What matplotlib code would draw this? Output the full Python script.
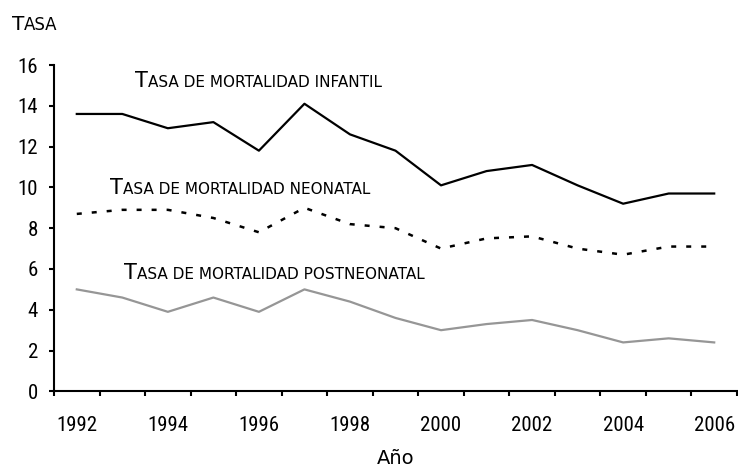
import matplotlib
matplotlib.use('Agg')
import matplotlib.pyplot as plt
from matplotlib import font_manager as fm
from matplotlib.offsetbox import TextArea, HPacker, AnnotationBbox
from matplotlib.ticker import FixedLocator

years = [1992, 1993, 1994, 1995, 1996, 1997, 1998, 1999, 2000, 2001, 2002, 2003, 2004, 2005, 2006]
infantil = [13.6, 13.6, 12.9, 13.2, 11.8, 14.1, 12.6, 11.8, 10.1, 10.8, 11.1, 10.1, 9.2, 9.7, 9.7]
neonatal = [8.7, 8.9, 8.9, 8.5, 7.8, 9.0, 8.2, 8.0, 7.0, 7.5, 7.6, 7.0, 6.7, 7.1, 7.1]
postneonatal = [5.0, 4.6, 3.9, 4.6, 3.9, 5.0, 4.4, 3.6, 3.0, 3.3, 3.5, 3.0, 2.4, 2.6, 2.4]

cap_font = 'DejaVu Sans'

# look for a narrow font for the numbers
fonts = [(f.name, str(f.stretch)) for f in fm.fontManager.ttflist]
num_props = dict(family='Liberation Sans', size=14)
for name, stretch in fonts:
    if name in ('Liberation Sans Narrow', 'Roboto Condensed', 'Open Sans Condensed'):
        num_props = dict(family=name, size=15)
        break
else:
    for name, stretch in fonts:
        if name == 'DejaVu Sans' and 'condensed' in stretch:
            num_props = dict(family='DejaVu Sans', stretch='condensed', size=14.5)
            break


def small_caps(text, big, small):
    # first letter big, the rest uppercase and smaller
    parts = [TextArea(text[0].upper(), textprops=dict(size=big, family=cap_font)),
             TextArea(text[1:].upper(), textprops=dict(size=small, family=cap_font))]
    return HPacker(children=parts, align='baseline', pad=0, sep=0)


fig = plt.figure(figsize=(7.38, 4.69), dpi=100)
ax = fig.add_axes([0.0732, 0.1655, 0.9254, 0.6959])

x = list(range(len(years)))
ax.plot(x, infantil, color='black', lw=1.6)
ax.plot(x, neonatal, color='black', lw=1.8, linestyle=(0, (2, 4)))
ax.plot(x, postneonatal, color='#969696', lw=1.6)

ax.set_xlim(-0.5, len(years) - 0.5)
ax.set_ylim(0, 16)

ax.spines['top'].set_visible(False)
ax.spines['right'].set_visible(False)
ax.spines['left'].set_linewidth(1.5)
ax.spines['bottom'].set_linewidth(1.5)

ax.set_xticks(x[::2])
ax.set_xticklabels([str(y) for y in years[::2]], **num_props)
ax.xaxis.set_minor_locator(FixedLocator([i - 0.5 for i in range(len(years) + 1)]))
ax.tick_params(axis='x', which='major', length=0, pad=18)
ax.tick_params(axis='x', which='minor', length=3.6, width=1.5, direction='out')

ax.set_yticks(range(0, 17, 2))
ax.set_yticklabels([str(v) for v in range(0, 17, 2)], **num_props)
ax.tick_params(axis='y', length=3.6, width=1.5, direction='out', pad=8)

ax.set_xlabel('Año', family=cap_font, size=14, labelpad=10)

labels = [('Tasa de mortalidad infantil', 1.28, 14.95),
          ('Tasa de mortalidad neonatal', 0.73, 9.71),
          ('Tasa de mortalidad postneonatal', 1.04, 5.54)]
for txt, lx, ly in labels:
    ab = AnnotationBbox(small_caps(txt, 15, 11), (lx, ly), xycoords='data',
                        box_alignment=(0, 0), frameon=False, pad=0,
                        xybox=(0, -5), boxcoords='offset pixels')
    ax.add_artist(ab)

ab = AnnotationBbox(small_caps('Tasa', 14.5, 12), (12 / 738, 1 - 28.5 / 469),
                    xycoords='figure fraction', box_alignment=(0, 0), frameon=False,
                    pad=0, xybox=(0, -5), boxcoords='offset pixels')
fig.add_artist(ab)

fig.savefig('out.png', dpi=100)
